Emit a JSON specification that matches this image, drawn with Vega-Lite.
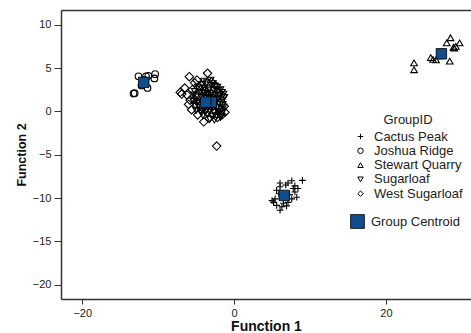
{
  "$schema": "https://vega.github.io/schema/vega-lite/v6.json",
  "width": 410,
  "height": 289,
  "autosize": {"type": "none"},
  "padding": {"left": 61, "top": 10, "right": 0, "bottom": 34},
  "background": "white",
  "config": {
    "view": {"stroke": null},
    "font": "Liberation Sans",
    "axis": {"grid": false, "domainColor": "#333333", "domainWidth": 1.5, "tickColor": "#333333", "tickWidth": 1, "labelColor": "#222222", "labelFontSize": 11, "titleColor": "#111111", "titleFontWeight": "bold"}
  },
  "datasets": {
    "pts": [
      {"GroupID": "Joshua Ridge", "f1": -12.6, "f2": 4.05},
      {"GroupID": "Joshua Ridge", "f1": -11.6, "f2": 4.05},
      {"GroupID": "Joshua Ridge", "f1": -11.3, "f2": 4.1},
      {"GroupID": "Joshua Ridge", "f1": -10.5, "f2": 3.8},
      {"GroupID": "Joshua Ridge", "f1": -10.4, "f2": 4.3},
      {"GroupID": "Joshua Ridge", "f1": -11.4, "f2": 2.7},
      {"GroupID": "Joshua Ridge", "f1": -13.1, "f2": 2.1},
      {"GroupID": "Joshua Ridge", "f1": -13.25, "f2": 2.05},
      {"GroupID": "Joshua Ridge", "f1": -12.2, "f2": 3.0},
      {"GroupID": "Joshua Ridge", "f1": -11.8, "f2": 3.6},
      {"GroupID": "Stewart Quarry", "f1": 23.7, "f2": 5.6},
      {"GroupID": "Stewart Quarry", "f1": 23.7, "f2": 4.8},
      {"GroupID": "Stewart Quarry", "f1": 25.9, "f2": 6.2},
      {"GroupID": "Stewart Quarry", "f1": 26.2, "f2": 6.0},
      {"GroupID": "Stewart Quarry", "f1": 26.6, "f2": 5.95},
      {"GroupID": "Stewart Quarry", "f1": 28.5, "f2": 8.5},
      {"GroupID": "Stewart Quarry", "f1": 28.0, "f2": 7.9},
      {"GroupID": "Stewart Quarry", "f1": 28.9, "f2": 7.4},
      {"GroupID": "Stewart Quarry", "f1": 29.2, "f2": 7.5},
      {"GroupID": "Stewart Quarry", "f1": 29.7, "f2": 7.9},
      {"GroupID": "Stewart Quarry", "f1": 28.4, "f2": 5.8},
      {"GroupID": "Stewart Quarry", "f1": 27.0, "f2": 6.4},
      {"GroupID": "Stewart Quarry", "f1": 29.0, "f2": 7.3},
      {"GroupID": "Cactus Peak", "f1": 9.0, "f2": -7.96},
      {"GroupID": "Cactus Peak", "f1": 7.6, "f2": -8.0},
      {"GroupID": "Cactus Peak", "f1": 7.1, "f2": -8.27},
      {"GroupID": "Cactus Peak", "f1": 6.05, "f2": -8.27},
      {"GroupID": "Cactus Peak", "f1": 6.05, "f2": -8.7},
      {"GroupID": "Cactus Peak", "f1": 5.6, "f2": -9.1},
      {"GroupID": "Cactus Peak", "f1": 7.8, "f2": -8.9},
      {"GroupID": "Cactus Peak", "f1": 8.0, "f2": -9.3},
      {"GroupID": "Cactus Peak", "f1": 7.6, "f2": -10.1},
      {"GroupID": "Cactus Peak", "f1": 5.4, "f2": -10.1},
      {"GroupID": "Cactus Peak", "f1": 5.2, "f2": -10.5},
      {"GroupID": "Cactus Peak", "f1": 5.6, "f2": -10.85},
      {"GroupID": "Cactus Peak", "f1": 6.05, "f2": -11.4},
      {"GroupID": "Cactus Peak", "f1": 6.3, "f2": -11.0},
      {"GroupID": "Cactus Peak", "f1": 7.1, "f2": -10.5},
      {"GroupID": "Cactus Peak", "f1": 8.25, "f2": -9.9},
      {"GroupID": "Cactus Peak", "f1": 8.4, "f2": -8.9},
      {"GroupID": "Cactus Peak", "f1": 6.5, "f2": -10.6},
      {"GroupID": "Cactus Peak", "f1": 5.9, "f2": -9.5},
      {"GroupID": "Cactus Peak", "f1": 6.8, "f2": -8.5},
      {"GroupID": "Cactus Peak", "f1": 7.3, "f2": -9.6},
      {"GroupID": "Cactus Peak", "f1": 5.0, "f2": -10.3},
      {"GroupID": "Cactus Peak", "f1": 6.9, "f2": -10.9},
      {"GroupID": "Cactus Peak", "f1": 8.0, "f2": -8.6},
      {"GroupID": "Sugarloaf", "f1": -4.2, "f2": 3.1},
      {"GroupID": "Sugarloaf", "f1": -3.6, "f2": 3.3},
      {"GroupID": "Sugarloaf", "f1": -3.0, "f2": 3.0},
      {"GroupID": "Sugarloaf", "f1": -2.5, "f2": 2.9},
      {"GroupID": "Sugarloaf", "f1": -4.8, "f2": 2.8},
      {"GroupID": "Sugarloaf", "f1": -3.9, "f2": 2.7},
      {"GroupID": "Sugarloaf", "f1": -3.3, "f2": 2.6},
      {"GroupID": "Sugarloaf", "f1": -2.7, "f2": 2.5},
      {"GroupID": "Sugarloaf", "f1": -2.1, "f2": 2.4},
      {"GroupID": "Sugarloaf", "f1": -1.6, "f2": 2.2},
      {"GroupID": "Sugarloaf", "f1": -5.2, "f2": 2.3},
      {"GroupID": "Sugarloaf", "f1": -4.5, "f2": 2.2},
      {"GroupID": "Sugarloaf", "f1": -4.0, "f2": 2.1},
      {"GroupID": "Sugarloaf", "f1": -3.5, "f2": 2.0},
      {"GroupID": "Sugarloaf", "f1": -3.0, "f2": 2.1},
      {"GroupID": "Sugarloaf", "f1": -2.4, "f2": 1.9},
      {"GroupID": "Sugarloaf", "f1": -1.9, "f2": 1.8},
      {"GroupID": "Sugarloaf", "f1": -1.4, "f2": 2.0},
      {"GroupID": "Sugarloaf", "f1": -5.0, "f2": 1.7},
      {"GroupID": "Sugarloaf", "f1": -4.3, "f2": 1.6},
      {"GroupID": "Sugarloaf", "f1": -3.7, "f2": 1.5},
      {"GroupID": "Sugarloaf", "f1": -3.2, "f2": 1.6},
      {"GroupID": "Sugarloaf", "f1": -2.6, "f2": 1.4},
      {"GroupID": "Sugarloaf", "f1": -2.1, "f2": 1.5},
      {"GroupID": "Sugarloaf", "f1": -1.5, "f2": 1.3},
      {"GroupID": "Sugarloaf", "f1": -5.4, "f2": 1.2},
      {"GroupID": "Sugarloaf", "f1": -4.8, "f2": 1.1},
      {"GroupID": "Sugarloaf", "f1": -4.2, "f2": 1.0},
      {"GroupID": "Sugarloaf", "f1": -3.6, "f2": 0.9},
      {"GroupID": "Sugarloaf", "f1": -3.1, "f2": 1.1},
      {"GroupID": "Sugarloaf", "f1": -2.5, "f2": 0.9},
      {"GroupID": "Sugarloaf", "f1": -2.0, "f2": 1.0},
      {"GroupID": "Sugarloaf", "f1": -1.5, "f2": 0.8},
      {"GroupID": "Sugarloaf", "f1": -5.1, "f2": 0.6},
      {"GroupID": "Sugarloaf", "f1": -4.5, "f2": 0.5},
      {"GroupID": "Sugarloaf", "f1": -3.9, "f2": 0.4},
      {"GroupID": "Sugarloaf", "f1": -3.3, "f2": 0.6},
      {"GroupID": "Sugarloaf", "f1": -2.8, "f2": 0.4},
      {"GroupID": "Sugarloaf", "f1": -2.2, "f2": 0.5},
      {"GroupID": "Sugarloaf", "f1": -1.7, "f2": 0.3},
      {"GroupID": "Sugarloaf", "f1": -5.0, "f2": 0.1},
      {"GroupID": "Sugarloaf", "f1": -4.4, "f2": 0.0},
      {"GroupID": "Sugarloaf", "f1": -3.8, "f2": -0.1},
      {"GroupID": "Sugarloaf", "f1": -3.2, "f2": 0.1},
      {"GroupID": "Sugarloaf", "f1": -2.7, "f2": -0.1},
      {"GroupID": "Sugarloaf", "f1": -2.1, "f2": 0.0},
      {"GroupID": "Sugarloaf", "f1": -1.6, "f2": -0.2},
      {"GroupID": "Sugarloaf", "f1": -4.1, "f2": -0.5},
      {"GroupID": "Sugarloaf", "f1": -3.5, "f2": -0.4},
      {"GroupID": "Sugarloaf", "f1": -2.9, "f2": -0.6},
      {"GroupID": "Sugarloaf", "f1": -2.3, "f2": -0.5},
      {"GroupID": "Sugarloaf", "f1": -1.8, "f2": -0.7},
      {"GroupID": "Sugarloaf", "f1": -3.2, "f2": -0.9},
      {"GroupID": "Sugarloaf", "f1": -2.6, "f2": -1.0},
      {"GroupID": "Sugarloaf", "f1": -4.6, "f2": 2.6},
      {"GroupID": "Sugarloaf", "f1": -3.4, "f2": 2.4},
      {"GroupID": "Sugarloaf", "f1": -2.2, "f2": 2.8},
      {"GroupID": "Sugarloaf", "f1": -4.1, "f2": 1.8},
      {"GroupID": "Sugarloaf", "f1": -2.8, "f2": 1.8},
      {"GroupID": "Sugarloaf", "f1": -1.8, "f2": 2.5},
      {"GroupID": "Sugarloaf", "f1": -5.3, "f2": 1.9},
      {"GroupID": "Sugarloaf", "f1": -4.9, "f2": 0.9},
      {"GroupID": "Sugarloaf", "f1": -3.0, "f2": 0.8},
      {"GroupID": "Sugarloaf", "f1": -2.3, "f2": 1.2},
      {"GroupID": "Sugarloaf", "f1": -1.3, "f2": 1.6},
      {"GroupID": "Sugarloaf", "f1": -4.3, "f2": -0.2},
      {"GroupID": "Sugarloaf", "f1": -3.6, "f2": 0.2},
      {"GroupID": "Sugarloaf", "f1": -2.0, "f2": -0.3},
      {"GroupID": "Sugarloaf", "f1": -1.4, "f2": 0.5},
      {"GroupID": "Sugarloaf", "f1": -4.0, "f2": 3.5},
      {"GroupID": "Sugarloaf", "f1": -3.1, "f2": 3.6},
      {"GroupID": "Sugarloaf", "f1": -2.8, "f2": 3.2},
      {"GroupID": "West Sugarloaf", "f1": -5.9, "f2": 4.0},
      {"GroupID": "West Sugarloaf", "f1": -3.5, "f2": 4.4},
      {"GroupID": "West Sugarloaf", "f1": -6.5, "f2": 2.7},
      {"GroupID": "West Sugarloaf", "f1": -7.1, "f2": 2.2},
      {"GroupID": "West Sugarloaf", "f1": -6.9, "f2": 2.0},
      {"GroupID": "West Sugarloaf", "f1": -5.2, "f2": 3.3},
      {"GroupID": "West Sugarloaf", "f1": -4.0, "f2": -1.2},
      {"GroupID": "West Sugarloaf", "f1": -2.3, "f2": -4.0},
      {"GroupID": "West Sugarloaf", "f1": -1.8, "f2": -0.3},
      {"GroupID": "West Sugarloaf", "f1": -5.8, "f2": 1.3},
      {"GroupID": "West Sugarloaf", "f1": -6.2, "f2": 1.9},
      {"GroupID": "West Sugarloaf", "f1": -5.5, "f2": 2.5},
      {"GroupID": "West Sugarloaf", "f1": -4.9, "f2": 3.6},
      {"GroupID": "West Sugarloaf", "f1": -4.3, "f2": 3.0},
      {"GroupID": "West Sugarloaf", "f1": -3.0, "f2": 3.4},
      {"GroupID": "West Sugarloaf", "f1": -2.5, "f2": 3.0},
      {"GroupID": "West Sugarloaf", "f1": -6.0, "f2": 0.8},
      {"GroupID": "West Sugarloaf", "f1": -5.6, "f2": 0.2},
      {"GroupID": "West Sugarloaf", "f1": -4.8, "f2": -0.4},
      {"GroupID": "West Sugarloaf", "f1": -3.3, "f2": -0.8},
      {"GroupID": "West Sugarloaf", "f1": -2.2, "f2": -0.7},
      {"GroupID": "West Sugarloaf", "f1": -1.6, "f2": -0.4},
      {"GroupID": "West Sugarloaf", "f1": -1.3, "f2": 0.6},
      {"GroupID": "West Sugarloaf", "f1": -1.5, "f2": 1.8},
      {"GroupID": "West Sugarloaf", "f1": -2.0, "f2": 2.2},
      {"GroupID": "West Sugarloaf", "f1": -5.2, "f2": 1.4},
      {"GroupID": "West Sugarloaf", "f1": -4.5, "f2": 1.2},
      {"GroupID": "West Sugarloaf", "f1": -3.8, "f2": 2.4},
      {"GroupID": "West Sugarloaf", "f1": -3.0, "f2": 1.5},
      {"GroupID": "West Sugarloaf", "f1": -2.6, "f2": 0.2},
      {"GroupID": "West Sugarloaf", "f1": -4.2, "f2": 0.4},
      {"GroupID": "West Sugarloaf", "f1": -1.2, "f2": -0.1}
    ],
    "cent": [
      {"GroupID": "Joshua Ridge", "f1": -11.9, "f2": 3.35, "kind": "Group Centroid"},
      {"GroupID": "Stewart Quarry", "f1": 27.3, "f2": 6.65, "kind": "Group Centroid"},
      {"GroupID": "Cactus Peak", "f1": 6.6, "f2": -9.7, "kind": "Group Centroid"},
      {"GroupID": "Sugarloaf", "f1": -3.0, "f2": 1.07, "kind": "Group Centroid"},
      {"GroupID": "West Sugarloaf", "f1": -3.75, "f2": 1.07, "kind": "Group Centroid"}
    ]
  },
  "resolve": {"axis": {"x": "independent"}},
  "layer": [
    {
      "data": {"name": "pts"},
      "mark": {"type": "point", "filled": false, "stroke": "black", "strokeWidth": 1.1, "opacity": 1},
      "encoding": {
        "x": {"field": "f1", "type": "quantitative", "scale": {"domain": [-22.8, 31.2], "nice": false, "zero": false},
          "axis": {"title": "Function 1", "titleFontSize": 14, "values": [-20, 0, 20], "tickSize": 5, "labelPadding": 3, "titlePadding": 1}},
        "y": {"field": "f2", "type": "quantitative", "scale": {"domain": [-21.65, 11.7], "nice": false, "zero": false},
          "axis": {"title": "Function 2", "titleFontSize": 12.5, "values": [10, 5, 0, -5, -10, -15, -20], "tickSize": 7, "labelPadding": 3, "titlePadding": 4}},
        "shape": {"field": "GroupID", "type": "nominal",
          "scale": {"domain": ["Cactus Peak", "Joshua Ridge", "Stewart Quarry", "Sugarloaf", "West Sugarloaf"],
            "range": ["M-1,0H1M0,-1V1", "circle", "triangle-up", "triangle-down", "diamond"]},
          "legend": {"orient": "none", "legendX": 293, "legendY": 104, "title": "GroupID", "titleFontSize": 13, "titleFontWeight": "normal", "titleColor": "#222222", "titleAnchor": "middle", "titlePadding": 3,
            "labelFontSize": 13, "labelColor": "#222222", "symbolSize": 30, "symbolStrokeColor": "black", "symbolStrokeWidth": 1, "symbolFillColor": "transparent", "rowPadding": 0.3, "labelOffset": 7}},
        "size": {"condition": {"test": "datum.GroupID === 'West Sugarloaf'", "value": 72}, "value": 44}
      }
    },
    {
      "data": {"name": "cent"},
      "mark": {"type": "square", "stroke": "black", "strokeWidth": 0.8, "opacity": 1, "size": 110},
      "encoding": {
        "x": {"field": "f1", "type": "quantitative", "axis": {"orient": "top", "title": null, "labels": false, "ticks": false, "domain": true}},
        "y": {"field": "f2", "type": "quantitative"},
        "fill": {"field": "kind", "type": "nominal", "scale": {"domain": ["Group Centroid"], "range": ["#0e4d8f"]},
          "legend": {"orient": "none", "legendX": 289, "legendY": 204, "title": null, "labelFontSize": 13, "labelColor": "#222222", "symbolType": "square", "symbolSize": 190, "symbolStrokeColor": "black", "symbolStrokeWidth": 0.8, "labelOffset": 6}}
      }
    }
  ]
}
